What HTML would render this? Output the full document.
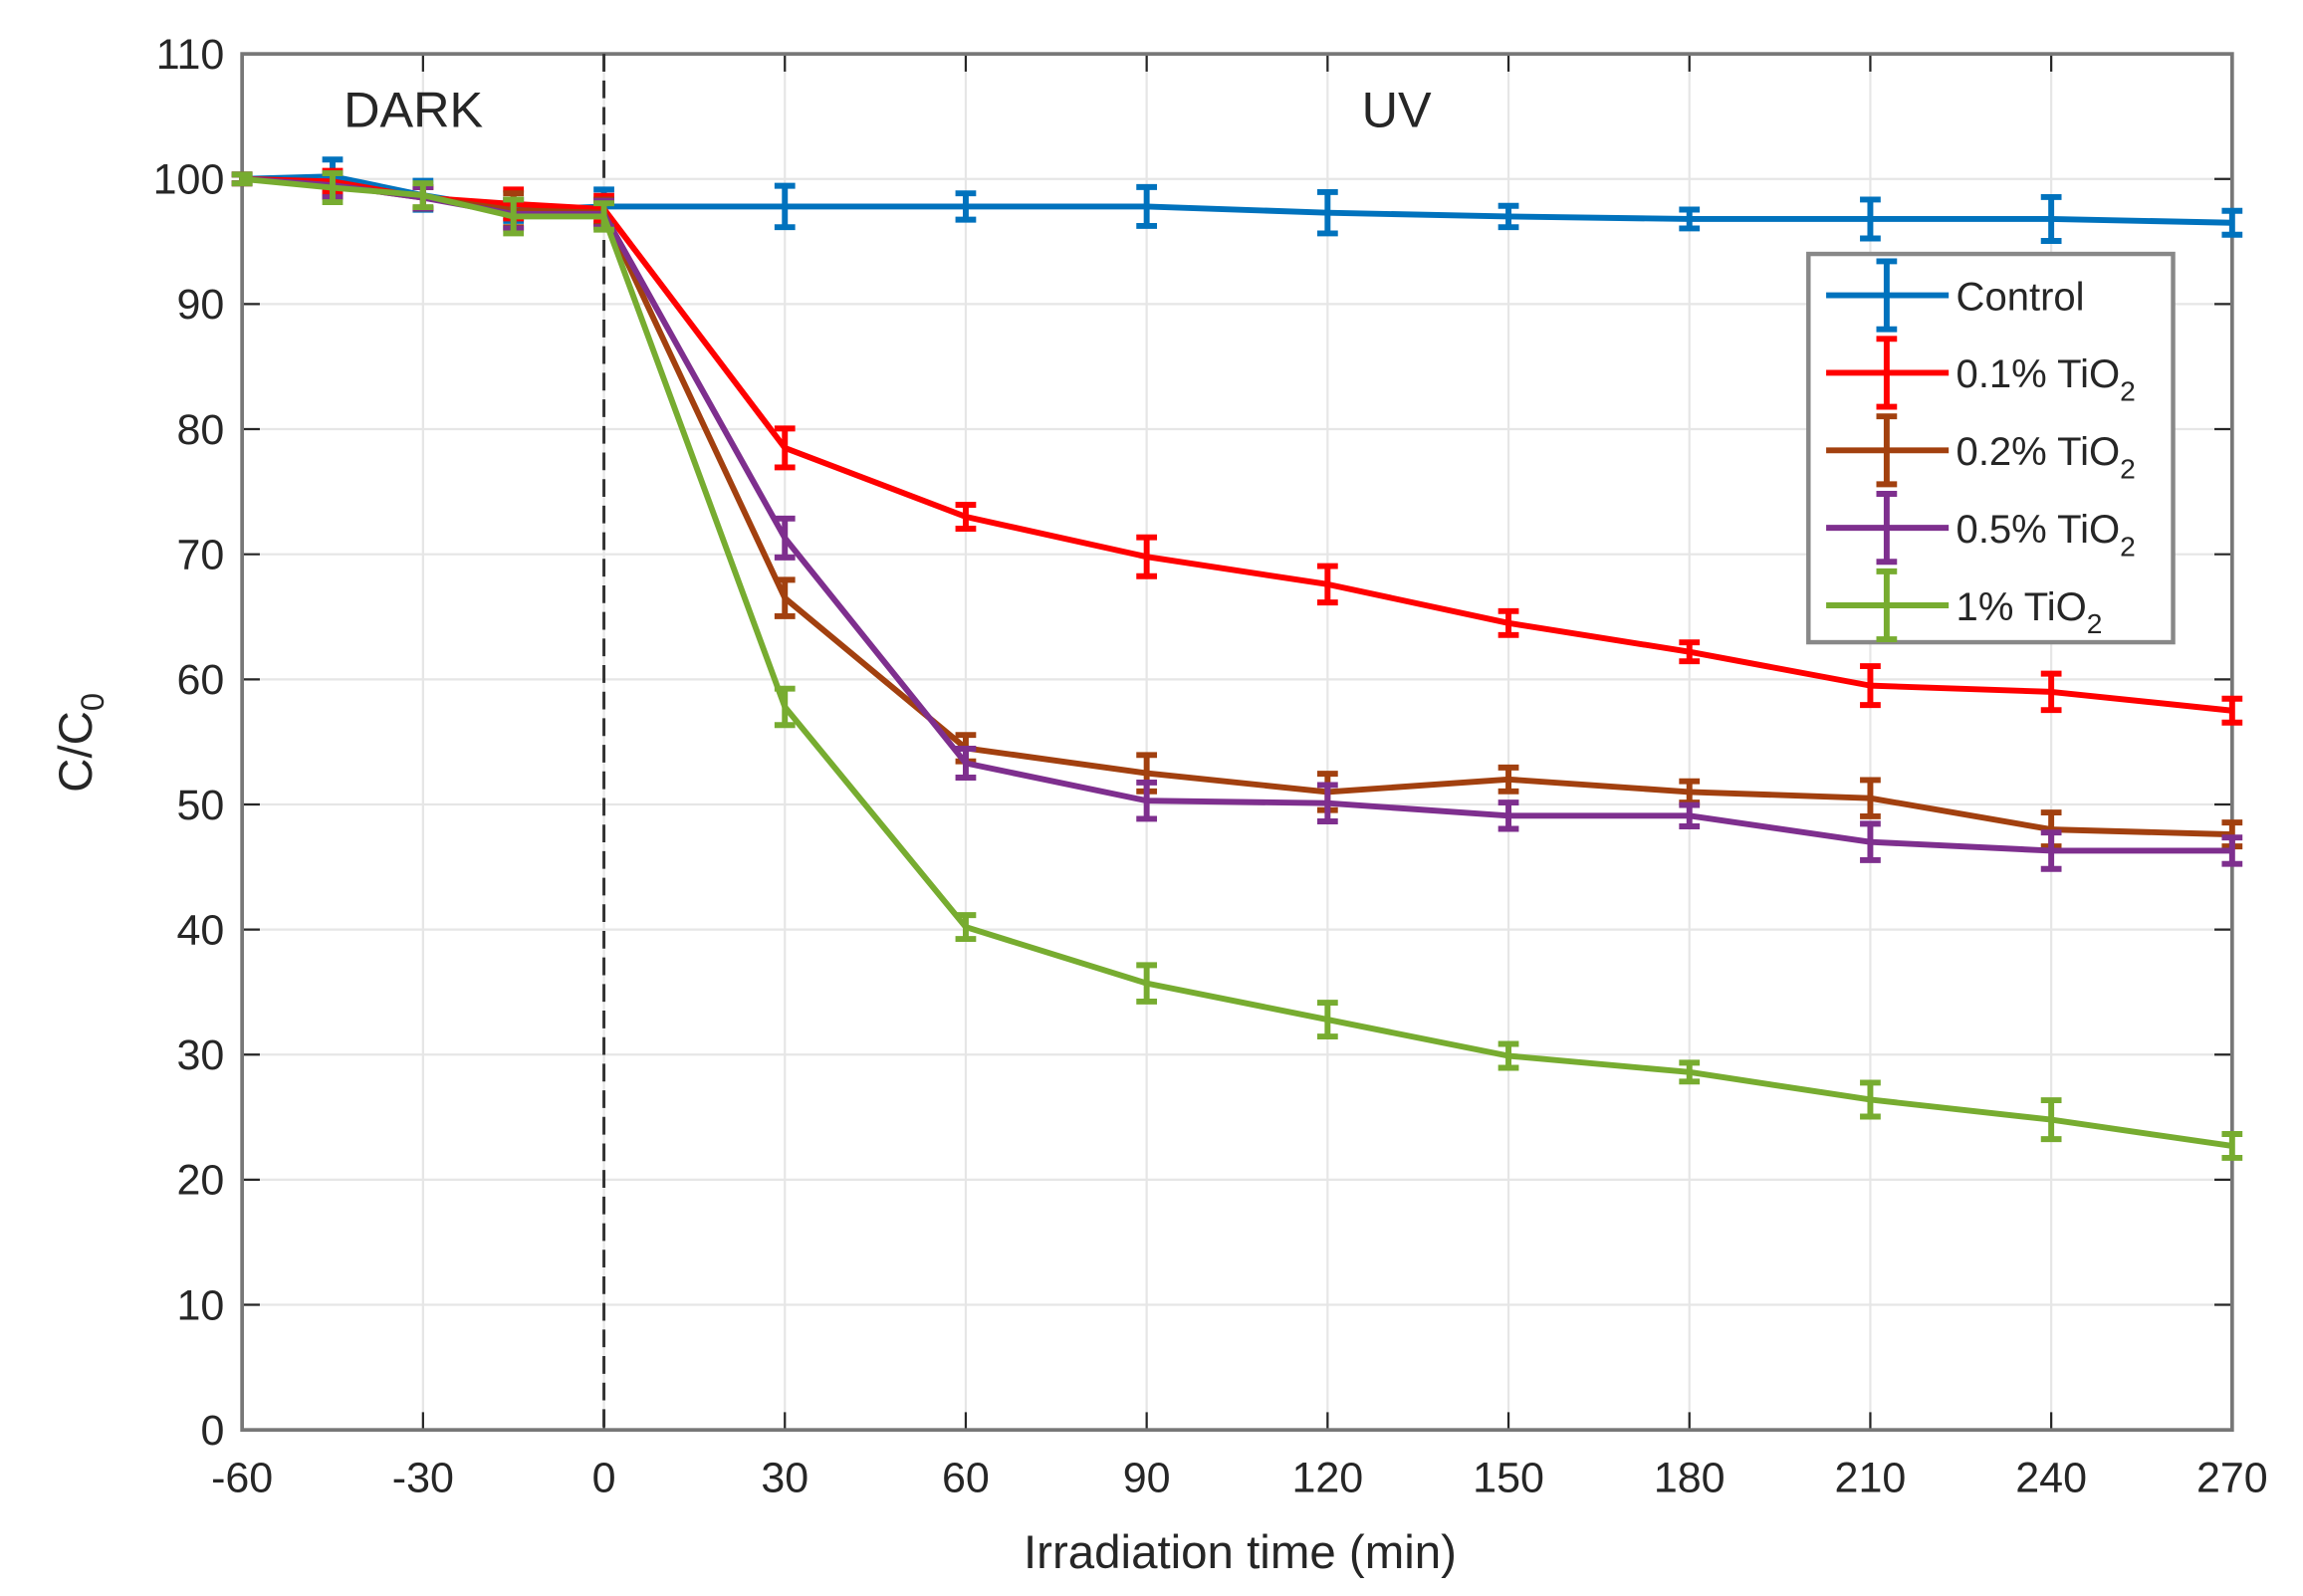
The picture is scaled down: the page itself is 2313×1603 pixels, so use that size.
<!DOCTYPE html>
<html><head><meta charset="utf-8"><style>
html,body{margin:0;padding:0;background:#fff;}
svg{display:block;}
text{font-family:"Liberation Sans",sans-serif;fill:#262626;}
</style></head><body>
<svg id="s" width="2313" height="1603" viewBox="0 0 1560 1081" preserveAspectRatio="none" xmlns="http://www.w3.org/2000/svg"></svg>
<script>
const s=document.getElementById('s');
const L=164,R=1512,T=36.5,B=968.5;
const X=t=>L+(t+60)*(R-L)/330, Y=v=>B-v*(B-T)/110;
let h='<rect x="0" y="0" width="1560" height="1081" fill="#fff"/>';
for(let t=-60;t<=270;t+=30){h+=`<line x1="${X(t)}" y1="${T}" x2="${X(t)}" y2="${B}" stroke="#e6e6e6" stroke-width="1.5"/>`;}
for(let v=0;v<=110;v+=10){h+=`<line x1="${L}" y1="${Y(v)}" x2="${R}" y2="${Y(v)}" stroke="#e6e6e6" stroke-width="1.5"/>`;}
for(let t=-60;t<=270;t+=30){const x=X(t);h+=`<line x1="${x}" y1="${B}" x2="${x}" y2="${B-12}" stroke="#262626" stroke-width="1.5"/><line x1="${x}" y1="${T}" x2="${x}" y2="${T+12}" stroke="#262626" stroke-width="1.5"/>`;
h+=`<text x="${x}" y="${B+42}" font-size="29" text-anchor="middle">${t}</text>`;}
for(let v=0;v<=110;v+=10){const y=Y(v);h+=`<line x1="${L}" y1="${y}" x2="${L+12}" y2="${y}" stroke="#262626" stroke-width="1.5"/><line x1="${R}" y1="${y}" x2="${R-12}" y2="${y}" stroke="#262626" stroke-width="1.5"/>`;
h+=`<text x="${L-12}" y="${y+10}" font-size="29" text-anchor="end">${v}</text>`;}
h+=`<rect x="${L}" y="${T}" width="${R-L}" height="${B-T}" fill="none" stroke="#777" stroke-width="2.5"/>`;
h+=`<line x1="${X(0)}" y1="${T}" x2="${X(0)}" y2="${B}" stroke="#333" stroke-width="2" stroke-dasharray="12,6"/>`;
h+=`<text x="280" y="86" font-size="34" text-anchor="middle">DARK</text><text x="946" y="86" font-size="34" text-anchor="middle">UV</text>`;
h+=`<text x="840" y="1062" font-size="32" text-anchor="middle">Irradiation time (min)</text>`;
h+=`<text transform="translate(62,503) rotate(-90)" font-size="32" text-anchor="middle">C/C<tspan font-size="22" dy="8">0</tspan></text>`;
const ts=[-60,-45,-30,-15,0,30,60,90,120,150,180,210,240,270];
const S=[
['#0072BD',[100,100.2,98.7,97.5,97.8,97.8,97.8,97.8,97.3,97,96.8,96.8,96.8,96.5],[0,1,.8,.5,1,1.3,.7,1.2,1.3,.5,.4,1.2,1.4,.6]],
['#FF0000',[100,99.8,98.5,98,97.6,78.5,73,69.8,67.6,64.5,62.2,59.5,59,57.5],[0,.5,.5,.8,.7,1.2,.6,1.2,1.1,.6,.4,1.2,1.1,.6]],
['#A2400F',[100,99.5,98.5,97.5,97.3,66.5,54.5,52.5,51,52,51,50.5,48,47.6],[0,.6,.5,1,.7,1.1,.7,1.1,1.1,.6,.5,1.1,1,.6]],
['#7E2F8E',[100,99.5,98.5,97.2,97.2,71.3,53.3,50.3,50.1,49.1,49.1,47,46.3,46.3],[0,.6,.5,.8,.7,1.2,.8,1.1,1.1,.7,.5,1.1,1.1,.7]],
['#77AC30',[100,99.3,98.7,97,97,57.8,40.2,35.7,32.8,29.9,28.6,26.4,24.8,22.7],[0,.8,.6,1,.7,1.1,.6,1.1,1,.6,.4,1,1.2,.6]]];
for(const [c,v,e] of S){
 h+=`<polyline fill="none" stroke="${c}" stroke-width="4" stroke-linejoin="round" points="${ts.map((t,i)=>X(t)+','+Y(v[i])).join(' ')}"/>`;
 ts.forEach((t,i)=>{const x=X(t),y1=Y(v[i]+e[i])-3,y2=Y(v[i]-e[i])+3;
  h+=`<line x1="${x}" y1="${y1}" x2="${x}" y2="${y2}" stroke="${c}" stroke-width="4"/><line x1="${x-7}" y1="${y1}" x2="${x+7}" y2="${y1}" stroke="${c}" stroke-width="4"/><line x1="${x-7}" y1="${y2}" x2="${x+7}" y2="${y2}" stroke="${c}" stroke-width="4"/>`;});
}
h+=`<rect x="1225" y="172" width="247" height="263" fill="#fff" stroke="#888" stroke-width="3"/>`;
const labs=['Control','0.1% TiO<tspan font-size="19" dy="9">2</tspan>','0.2% TiO<tspan font-size="19" dy="9">2</tspan>','0.5% TiO<tspan font-size="19" dy="9">2</tspan>','1% TiO<tspan font-size="19" dy="9">2</tspan>'];
S.forEach(([c],i)=>{const y=200+i*52.5;
 h+=`<line x1="1237" y1="${y}" x2="1320" y2="${y}" stroke="${c}" stroke-width="4"/><line x1="1278" y1="${y-23}" x2="1278" y2="${y+23}" stroke="${c}" stroke-width="4"/><line x1="1271" y1="${y-23}" x2="1285" y2="${y-23}" stroke="${c}" stroke-width="4"/><line x1="1271" y1="${y+23}" x2="1285" y2="${y+23}" stroke="${c}" stroke-width="4"/>`;
 h+=`<text x="1325" y="${y+10}" font-size="27" fill="#000">${labs[i]}</text>`;});
s.innerHTML=h;
</script>
</body></html>
